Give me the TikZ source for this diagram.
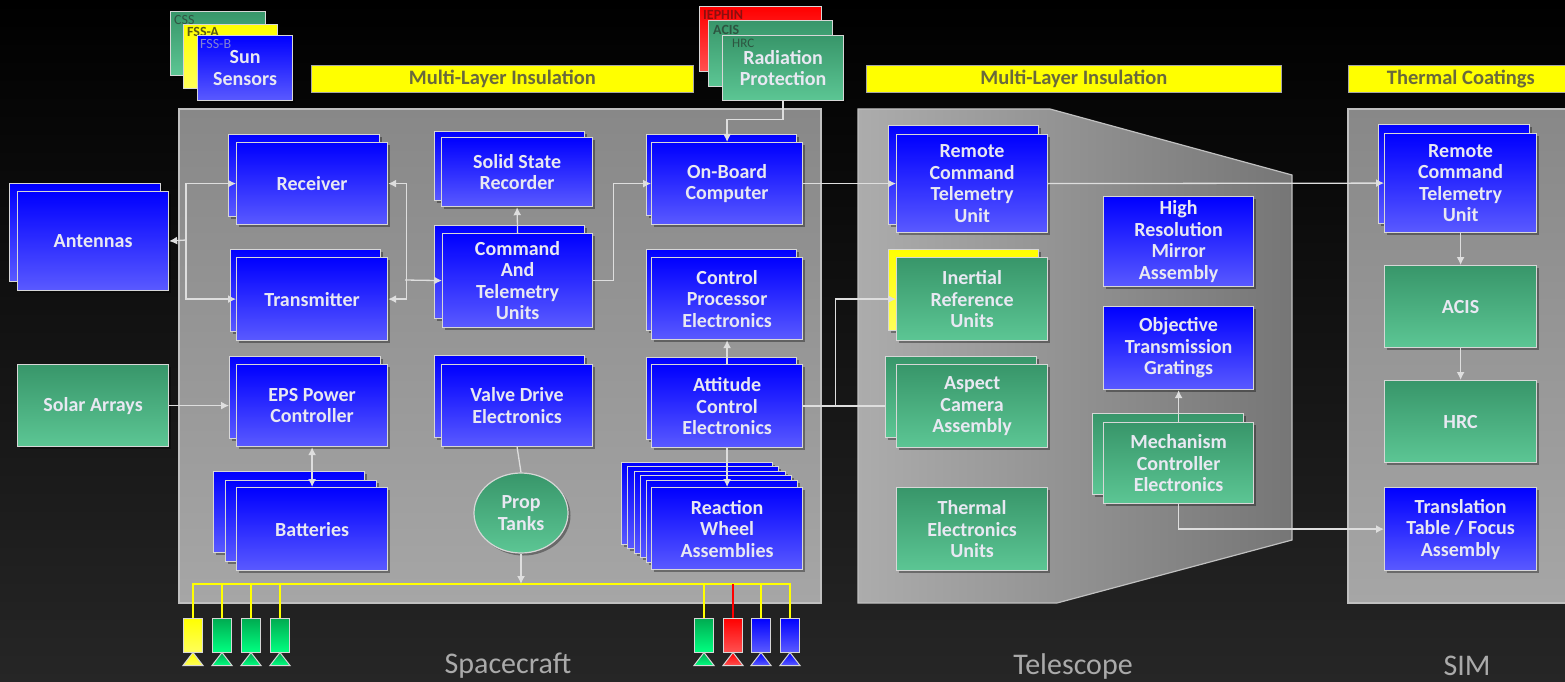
\documentclass[tikz,border=0pt]{standalone}
\usepackage{fontspec}
\setmainfont{Carlito}
\usetikzlibrary{arrows.meta,shapes.geometric,shadows}

\definecolor{bgtop}{RGB}{0,0,0}
\definecolor{bgbot}{RGB}{38,38,38}
\definecolor{bltop}{RGB}{0,0,255}
\definecolor{blbot}{RGB}{90,90,255}
\definecolor{grtop}{RGB}{56,150,106}
\definecolor{grbot}{RGB}{92,198,148}
\definecolor{rdtop}{RGB}{255,0,0}
\definecolor{rdbot}{RGB}{255,80,80}
\definecolor{ylw}{RGB}{255,255,0}
\definecolor{ylwbot}{RGB}{255,255,90}
\definecolor{thgtop}{RGB}{0,170,80}
\definecolor{thgbot}{RGB}{0,255,128}
\definecolor{boxline}{RGB}{215,215,215}
\definecolor{boxtext}{RGB}{232,232,242}
\definecolor{conn}{RGB}{222,222,222}
\definecolor{pantop}{RGB}{136,136,136}
\definecolor{panbot}{RGB}{166,166,166}
\definecolor{telleft}{RGB}{172,172,172}
\definecolor{telright}{RGB}{118,118,118}
\definecolor{panline}{RGB}{192,192,192}
\definecolor{hdrtext}{RGB}{105,105,60}
\definecolor{captext}{RGB}{170,170,170}
\definecolor{tagcss}{RGB}{50,85,68}
\definecolor{tagfa}{RGB}{90,90,20}
\definecolor{tagfb}{RGB}{130,130,210}
\definecolor{tagie}{RGB}{140,15,15}
\definecolor{taggr}{RGB}{45,85,65}

\begin{document}
\begin{tikzpicture}
	[
	x=1pt, y=-1pt, >={Latex[length=8pt,width=8pt]},
	%Kaesten
	bxbase/.style={anchor=north west, draw=boxline, line width=1.2, inner sep=2, align=center, text=boxtext, font=\bfseries\fontsize{20}{21.5}\selectfont, drop shadow={shadow xshift=2.5pt, shadow yshift=-2.5pt, opacity=0.35, fill=black}},
	blu/.style={bxbase, top color=bltop, bottom color=blbot},
	grn/.style={bxbase, top color=grtop, bottom color=grbot},
	yel/.style={bxbase, top color=ylw, bottom color=ylwbot},
	rdb/.style={bxbase, top color=rdtop, bottom color=rdbot},
	sz/.style 2 args={minimum width=#1, minimum height=#2},
	tagtxt/.style={anchor=north west, inner sep=0.5, text height=9, text depth=0.5, font=\fontsize{14}{15}\selectfont},
	hdr/.style={anchor=north west, fill=ylw, draw=gray!70, line width=0.8, text=hdrtext, minimum height=27, font=\bfseries\fontsize{20.5}{22}\selectfont},
	capt/.style={text=captext, font=\fontsize{30}{32}\selectfont},
	con/.style={draw=conn, line width=1.3},
	busl/.style={draw=ylw, line width=1.3},
	%Duesen
	thr/.style={minimum width=19, minimum height=34, inner sep=0, draw=boxline, line width=1},
	thY/.style={top color=ylw, bottom color=ylwbot},
	thG/.style={top color=thgtop, bottom color=thgbot},
	thR/.style={top color=rdtop, bottom color=rdbot},
	thB/.style={top color=bltop, bottom color=blbot}
	]
	%Hintergrund
	\shade[top color=bgtop, bottom color=bgbot] (0,0) rectangle (1565,682);
	\useasboundingbox (0,0) rectangle (1565,682);
	\clip (0,0) rectangle (1565,682);
	
	%Spacecraft
	\begin{scope}
		\shade[top color=pantop, bottom color=panbot] (179,109) rectangle (821,603);
		\draw[panline, line width=1.2] (179,109) rectangle (821,603);
		\node[hdr, minimum width=382] (mliS) at (311,65) {Multi-Layer Insulation};
		\node[capt] (capS) at (508,666) {Spacecraft};
		
		%Sun Sensors
		\node[grn, sz={95}{64}] (css) at (170,11) {};
		\node[tagtxt, text=tagcss] (cssT) at (173.5,14.5) {CSS};
		\node[yel, sz={94}{64}] (fssa) at (183,24) {};
		\node[tagtxt, text=tagfa, font=\bfseries\fontsize{14}{15}\selectfont] (fssaT) at (186.5,26.5) {FSS-A};
		\node[blu, sz={95}{65}] (sun) at (197,35) {Sun\\Sensors};
		\node[tagtxt, text=tagfb] (fssbT) at (199.5,38.5) {FSS-B};
		
		%Radiation Protection
		\node[rdb, sz={122}{65}] (ieph) at (699,6) {};
		\node[tagtxt, text=tagie, font=\bfseries\fontsize{14}{15}\selectfont] (iephT) at (702.5,9.5) {IEPHIN};
		\node[grn, sz={124}{66}] (acisR) at (708,20) {};
		\node[tagtxt, text=taggr, font=\bfseries\fontsize{14}{15}\selectfont] (acisT) at (712.5,24.5) {ACIS};
		\node[grn, sz={121}{65}] (rad) at (722,35) {Radiation\\Protection};
		\node[tagtxt, text=taggr, text height=8, font=\fontsize{13}{14}\selectfont] (hrcT) at (731.5,38.5) {HRC};
		
		%Kommunikation
		\node[blu, sz={151}{98}] (antB) at (9,183) {};
		\node[blu, sz={151}{99}] (ant) at (17,191) {Antennas};
		\node[blu, sz={151}{82}] (recB) at (228,134) {};
		\node[blu, sz={151}{82}] (rec) at (236,142) {Receiver};
		\node[blu, sz={150}{82}] (trnB) at (230,249) {};
		\node[blu, sz={151}{83}] (trn) at (236,257) {Transmitter};
		\node[blu, sz={150}{69}] (ssrB) at (434,131) {};
		\node[blu, sz={151}{69}] (ssr) at (441,137) {Solid State\\Recorder};
		\node[blu, sz={150}{93}] (ctuB) at (434,225) {};
		\node[blu, sz={150}{94}] (ctu) at (442,233) {Command\\And\\Telemetry\\Units};
		\node[blu, sz={150}{81}] (obcB) at (646,134) {};
		\node[blu, sz={151}{82}] (obc) at (651,142) {On-Board\\Computer};
		
		%Lage und Energie
		\node[blu, sz={150}{81}] (cpeB) at (646,249) {};
		\node[blu, sz={151}{82}] (cpe) at (651,257) {Control\\Processor\\Electronics};
		\node[blu, sz={150}{82}] (aceB) at (646,357) {};
		\node[blu, sz={151}{83}] (ace) at (651,364) {Attitude\\Control\\Electronics};
		\foreach \i/\x/\y in {1/621/462, 2/627/466, 3/634/471, 4/640/475, 5/646/480}
			\node[blu, sz={151}{82}] (rwa\i) at (\x,\y) {};
		\node[blu, sz={151}{82}] (rwa) at (651,487) {Reaction\\Wheel\\Assemblies};
		\node[grn, sz={151}{82}] (sol) at (17,364) {Solar Arrays};
		\node[blu, sz={151}{82}] (epsB) at (229,356) {};
		\node[blu, sz={151}{82}] (eps) at (236,364) {EPS Power\\Controller};
		\node[blu, sz={151}{81}] (bat1) at (213,471) {};
		\node[blu, sz={151}{81}] (bat2) at (225,480) {};
		\node[blu, sz={151}{83}] (bat) at (236,487) {Batteries};
		\node[blu, sz={150}{82}] (vdeB) at (434,355) {};
		\node[blu, sz={151}{82}] (vde) at (441,364) {Valve Drive\\Electronics};
		\node[grn, ellipse, anchor=center, sz={94}{80}] (prop) at (521,513) {Prop\\Tanks};
		
		%Duesen
		\coordinate (busL) at (193,584);
		\coordinate (busR) at (790,584);
		\foreach \i/\x/\s in {1/193/thY, 2/222/thG, 3/251/thG, 4/280/thG, 5/704/thG, 6/733/thR, 7/761/thB, 8/790/thB}
		{
			\node[thr, \s] (thr\i) at (\x,635) {};
			\filldraw[\s, draw=boxline, line width=1] (thr\i.south) -- ++(-10,13) -- ++(20,0) -- cycle;
		}
		\draw[busl] (thr1.north) -- (busL) -- (busR) -- (thr8.north);
		\foreach \i in {2,3,4,5,7}
			\draw[busl] (thr\i.north) -- (thr\i.north |- busL);
		\draw[busl, draw=red] (thr6.north) -- (thr6.north |- busL);
	\end{scope}
	
	%Telescope
	\begin{scope}
		\shade[left color=telleft, right color=telright] (858,109) -- (1050,109) -- (1292,175) -- (1292,540) -- (1057,603) -- (858,603) -- cycle;
		\draw[panline, line width=1.2] (858,109) -- (1050,109) -- (1292,175) -- (1292,540) -- (1057,603) -- (858,603) -- cycle;
		\node[hdr, minimum width=415] (mliT) at (866,65) {Multi-Layer Insulation};
		\node[capt] (capT) at (1073,666) {Telescope};
		
		\node[blu, sz={150}{99}] (trcB) at (888,125) {};
		\node[blu, sz={151}{98}] (trc) at (896,134) {Remote\\Command\\Telemetry\\Unit};
		\node[yel, sz={150}{81}] (iruB) at (888,249) {};
		\node[grn, sz={151}{83}] (iru) at (896,257) {Inertial\\Reference\\Units};
		\node[grn, sz={151}{81}] (acaB) at (885,356) {};
		\node[grn, sz={151}{83}] (aca) at (896,364) {Aspect\\Camera\\Assembly};
		\node[grn, sz={151}{83}] (teu) at (896,487) {Thermal\\Electronics\\Units};
		\node[blu, sz={150}{90}] (hrma) at (1103,196) {High\\Resolution\\Mirror\\Assembly};
		\node[blu, sz={150}{83}] (otg) at (1103,306) {Objective\\Transmission\\Gratings};
		\node[grn, sz={151}{81}] (mceB) at (1092,413) {};
		\node[grn, sz={150}{81}] (mce) at (1103,422) {Mechanism\\Controller\\Electronics};
	\end{scope}
	
	%SIM
	\begin{scope}
		\shade[top color=pantop, bottom color=panbot] (1348,109) rectangle (1575,603);
		\draw[panline, line width=1.2] (1348,109) rectangle (1575,603);
		\node[hdr, minimum width=225] (thc) at (1348,65) {Thermal Coatings};
		\node[capt] (capI) at (1467,666) {SIM};
		
		\node[blu, sz={151}{99}] (srcB) at (1378,124) {};
		\node[blu, sz={152}{99}] (src) at (1384,133) {Remote\\Command\\Telemetry\\Unit};
		\node[grn, sz={152}{82}] (sacis) at (1384,265) {ACIS};
		\node[grn, sz={152}{82}] (shrc) at (1384,380) {HRC};
		\node[blu, sz={152}{83}] (ttf) at (1384,487) {Translation\\Table / Focus\\Assembly};
	\end{scope}
	
	%Verbindungen
	\coordinate (antJ) at (186,240);
	\coordinate (ctuJ) at (405,280);
	\draw[con,<->] (rec.west) -- ++(-50,0) |- (trn.west);
	\draw[con,->] (antJ) -- (ant.east);
	\draw[con,<->] (rec.east) -- ++(18,0) |- (trn.east);
	\draw[con,->] (ctuJ) -- (ctu.west);
	\draw[con,->] (ctu.north) -- (ssr.south);
	\draw[con,->] (ctu.east) -- ++(20,0) |- (obc.west);
	\draw[con,->] (rad.south) -- ++(0,18) -| (obc.north);
	\draw[con,->] (ace.north) -- (cpe.south);
	\draw[con,->] (ace.south) -- (rwa.north);
	\draw[con,->] (sol.east) -- (sol.east -| epsB.west);
	\draw[con,<->] (eps.south) -- (bat.north);
	\draw[con] (vde.south) -- (prop.north);
	\draw[con,->] (prop.south) -- (prop.south |- busL);
	\draw[con,->] (obc.east) -- (trc.west);
	\draw[con,->] (trc.east) -- (src.west);
	\draw[con,->] (ace.east) -- ++(32,0) |- (iru.west);
	\draw[con] (ace.east) -- (ace.east -| acaB.west);
	\draw[con,->] (mce.north) -- (otg.south);
	\draw[con,->] (mce.south) |- (ttf.west);
	\draw[con,->] (src.south) -- (sacis.north);
	\draw[con,->] (sacis.south) -- (shrc.north);
\end{tikzpicture}
\end{document}
